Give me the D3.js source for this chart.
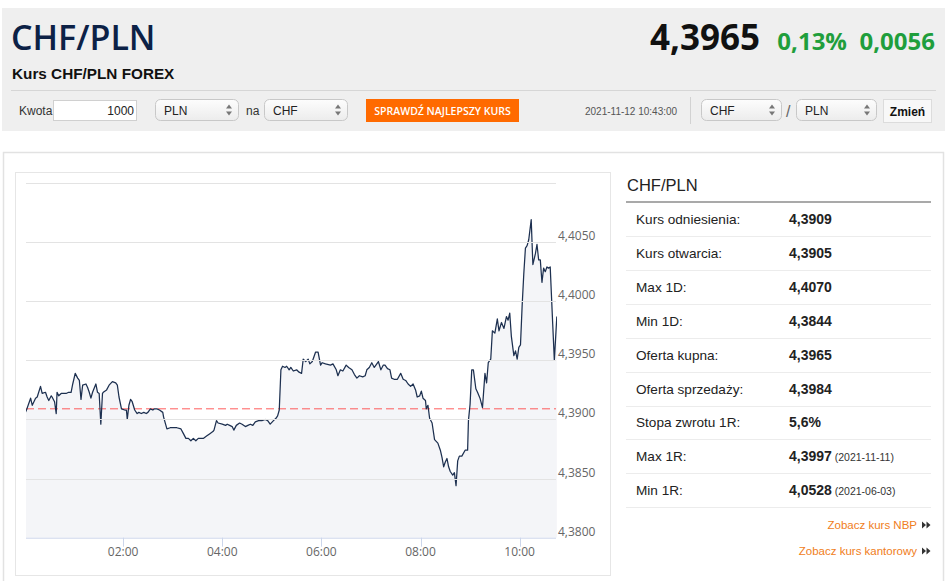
<!DOCTYPE html>
<html>
<head>
<meta charset="utf-8">
<script src="https://cdn.jsdelivr.net/npm/d3@7"></script>
<style>
  html, body { margin: 0; padding: 0; background: #fff; overflow: hidden; }
  svg { display: block; font-family: "Liberation Sans", Arial, sans-serif; }
</style>
</head>
<body>
<script>
// ============================================================
// CHF/PLN intraday quote page, drawn in one SVG with D3
// ============================================================

// ── Data ───────────────────────────────────────────────────
// minutes after midnight (2021-11-12)
const minutes = [
  1,3,8,10,14,16,20,22,26,28,
  30,33,34,37,39,40,42,45,48,51,
  54,57,59,62,65,67,69,71,75,77,
  79,81,83,87,89,91,93,95,96,100,
  103,107,111,113,115,118,122,124,125,127,
  129,131,134,137,139,142,145,148,150,153,
  156,158,161,164,168,169,173,177,181,185,
  190,193,196,199,202,205,208,211,213,217,
  221,225,229,230,233,235,240,244,246,249,
  252,254,257,261,264,268,271,274,277,280,
  284,288,292,295,298,302,305,307,309,311,
  313,316,318,321,323,326,330,333,336,338,
  341,344,346,349,353,356,359,361,365,371,
  374,378,380,383,386,390,393,397,400,403,
  406,410,413,415,418,421,424,426,429,432,
  435,437,440,443,445,448,452,456,459,462,
  465,468,471,474,476,479,481,483,486,487,
  489,491,494,497,501,504,506,508,510,512,
  514,516,519,521,523,525,527,530,534,537,
  538,540,542,544,547,549,552,555,558,560,
  562,565,567,570,573,575,578,581,584,586,
  588,590,593,595,597,599,601,603,605,607,
  609,611,614,616,619,621,623,625,627,629,
  631,633,635,637,640,642,645
];

const rates = [
  4.3905,4.3908,4.3918,4.3912,4.3918,4.3919,4.3928,4.3922,4.3923,4.3919,
  4.3916,4.3920,4.3919,4.3915,4.3905,4.3923,4.3920,4.3922,4.3922,4.3922,
  4.3923,4.3923,4.3930,4.3939,4.3935,4.3933,4.3917,4.3929,4.3930,4.3927,
  4.3923,4.3918,4.3923,4.3930,4.3923,4.3922,4.3896,4.3922,4.3923,4.3925,
  4.3929,4.3932,4.3931,4.3929,4.3919,4.3909,4.3908,4.3908,4.3900,4.3912,
  4.3917,4.3915,4.3908,4.3905,4.3906,4.3905,4.3906,4.3905,4.3906,4.3909,
  4.3908,4.3909,4.3909,4.3908,4.3906,4.3902,4.3892,4.3893,4.3893,4.3893,
  4.3892,4.3888,4.3884,4.3884,4.3882,4.3884,4.3882,4.3884,4.3884,4.3884,
  4.3886,4.3888,4.3890,4.3891,4.3899,4.3897,4.3896,4.3895,4.3896,4.3895,
  4.3894,4.3891,4.3895,4.3897,4.3896,4.3894,4.3895,4.3896,4.3895,4.3898,
  4.3899,4.3899,4.3900,4.3899,4.3896,4.3899,4.3901,4.3903,4.3908,4.3942,
  4.3945,4.3944,4.3945,4.3942,4.3944,4.3941,4.3942,4.3940,4.3939,4.3951,
  4.3949,4.3951,4.3947,4.3949,4.3957,4.3957,4.3946,4.3948,4.3947,4.3946,
  4.3947,4.3942,4.3937,4.3942,4.3941,4.3946,4.3944,4.3942,4.3938,4.3935,
  4.3937,4.3936,4.3937,4.3942,4.3944,4.3948,4.3944,4.3946,4.3949,4.3942,
  4.3946,4.3946,4.3943,4.3942,4.3935,4.3934,4.3934,4.3939,4.3934,4.3933,
  4.3930,4.3928,4.3930,4.3925,4.3919,4.3920,4.3924,4.3918,4.3916,4.3909,
  4.3912,4.3901,4.3897,4.3883,4.3880,4.3874,4.3868,4.3860,4.3864,4.3867,
  4.3860,4.3856,4.3853,4.3855,4.3844,4.3865,4.3869,4.3869,4.3874,4.3874,
  4.3899,4.3913,4.3942,4.3942,4.3926,4.3923,4.3918,4.3910,4.3939,4.3931,
  4.3948,4.3951,4.3975,4.3973,4.3985,4.3975,4.3982,4.3977,4.3987,4.3984,
  4.3990,4.3970,4.3954,4.3958,4.3951,4.3961,4.3963,4.3996,4.4023,4.4045,
  4.4047,4.4052,4.4069,4.4031,4.4040,4.4048,4.4035,4.4035,4.4016,4.4028,
  4.4025,4.4029,4.4028,4.4029,4.3981,4.3950,4.3987
];

const referenceRate = 4.3909;
const yTickValues   = [4.380, 4.385, 4.390, 4.395, 4.400, 4.405, 4.410];
const xTickHours    = [2, 4, 6, 8, 10];

const statLabels = ['Kurs odniesienia:', 'Kurs otwarcia:', 'Max 1D:', 'Min 1D:',
                    'Oferta kupna:', 'Oferta sprzedaży:', 'Stopa zwrotu 1R:', 'Max 1R:', 'Min 1R:'];
const statValues = ['4,3909', '4,3905', '4,4070', '4,3844',
                    '4,3965', '4,3984', '5,6%', '4,3997', '4,0528'];
const statNotes  = ['', '', '', '', '', '', '', '(2021-11-11)', '(2021-06-03)'];

const headline   = ['4,3965', '0,13%', '0,0056'];
const stampText  = '2021-11-12 10:43:00';

// ── Layout constants ───────────────────────────────────────
const W = 948, H = 581;
const PLOT_L = 26, PLOT_R = 556, PLOT_T = 183, PLOT_B = 537.7;
const ZERO_X = 24;              // where 00:00 falls
const PX_PER_MIN = 99 / 120;    // 2 hours = 99px

const CHART_FONT = '"Open Sans", "DejaVu Sans", sans-serif';

const svg = d3.select('body').append('svg')
  .attr('width', W)
  .attr('height', H);

const defs = svg.append('defs');
const grad = defs.append('linearGradient')
  .attr('id', 'selGrad').attr('x1', 0).attr('x2', 0).attr('y1', 0).attr('y2', 1);
grad.append('stop').attr('offset', '0%').attr('stop-color', '#fdfdfd');
grad.append('stop').attr('offset', '100%').attr('stop-color', '#ececec');

// ── Header ─────────────────────────────────────────────────
svg.append('rect')
  .attr('x', 2).attr('y', 8).attr('width', 943).attr('height', 123)
  .attr('fill', '#efefef');

svg.append('text')
  .attr('x', 11).attr('y', 50)
  .attr('font-family', '"Open Sans", sans-serif')
  .attr('font-weight', 600)
  .attr('font-size', 34)
  .attr('fill', '#0c2146')
  .text('CHF/PLN');

svg.append('text')
  .attr('x', 12).attr('y', 79)
  .attr('font-weight', 'bold')
  .attr('font-size', 15.3)
  .attr('fill', '#111')
  .text('Kurs CHF/PLN FOREX');

// price + change, right aligned
const headEnds   = [760, 847, 935];
const headSizes  = [35, 24, 24];
const headColors = ['#111', '#1f9e3c', '#1f9e3c'];
headline.forEach((t, i) => {
  svg.append('text')
    .attr('x', headEnds[i]).attr('y', 50)
    .attr('text-anchor', 'end')
    .attr('font-family', '"Open Sans", sans-serif')
    .attr('font-weight', 700)
    .attr('font-size', headSizes[i])
    .attr('fill', headColors[i])
    .text(t);
});

svg.append('line')
  .attr('x1', 11).attr('x2', 936).attr('y1', 90.5).attr('y2', 90.5)
  .attr('stroke', '#d6d6d6');

// ── Controls row ───────────────────────────────────────────
function label(x, y, t, size, color, weight) {
  return svg.append('text')
    .attr('x', x).attr('y', y)
    .attr('font-size', size)
    .attr('font-weight', weight || 'normal')
    .attr('fill', color)
    .text(t);
}

function selectBox(x, y, w, h, t) {
  svg.append('rect')
    .attr('x', x + 0.5).attr('y', y + 0.5).attr('width', w).attr('height', h)
    .attr('rx', 5).attr('ry', 5)
    .attr('fill', 'url(#selGrad)')
    .attr('stroke', '#c8c8c8');
  label(x + 9, y + 15.5, t, 12, '#222');
  // up / down arrows
  const ax = x + w - 9, ay = y + h / 2 + 0.5;
  svg.append('path')
    .attr('d', `M${ax - 3},${ay - 1.5}L${ax + 3},${ay - 1.5}L${ax},${ay - 5.5}Z` +
               `M${ax - 3},${ay + 1.5}L${ax + 3},${ay + 1.5}L${ax},${ay + 5.5}Z`)
    .attr('fill', '#777');
}

label(19, 115, 'Kwota', 12, '#333');
svg.append('rect')
  .attr('x', 53.5).attr('y', 100.5).attr('width', 83).attr('height', 20)
  .attr('fill', '#fff').attr('stroke', '#d0d0d0');
label(134, 115, '1000', 12, '#222').attr('text-anchor', 'end');

selectBox(155, 99, 83, 21, 'PLN');
label(246, 115, 'na', 12, '#333');
selectBox(264, 99, 83, 21, 'CHF');

svg.append('rect')
  .attr('x', 366).attr('y', 99).attr('width', 153).attr('height', 23)
  .attr('fill', '#ff6a00');
svg.append('text')
  .attr('x', 442.5).attr('y', 114.5)
  .attr('text-anchor', 'middle')
  .attr('font-family', '"Open Sans", sans-serif')
  .attr('font-weight', 600)
  .attr('font-size', 10.5)
  .attr('fill', '#fff')
  .text('SPRAWDŹ NAJLEPSZY KURS');

label(585, 115, stampText, 10, '#555');
svg.append('line')
  .attr('x1', 690.5).attr('x2', 690.5).attr('y1', 97).attr('y2', 124)
  .attr('stroke', '#d2d2d2');

selectBox(701, 99, 80, 21, 'CHF');
label(786, 117, '/', 16, '#666');
selectBox(796, 99, 80, 21, 'PLN');

svg.append('rect')
  .attr('x', 883.5).attr('y', 99.5).attr('width', 48).attr('height', 23)
  .attr('fill', '#f8f8f8').attr('stroke', '#dcdcdc');
label(907.5, 116, 'Zmień', 12, '#111', 'bold').attr('text-anchor', 'middle');

// ── Content frame ──────────────────────────────────────────
svg.append('rect')
  .attr('x', 3.5).attr('y', 152.5).attr('width', 940).attr('height', 460)
  .attr('fill', 'none').attr('stroke', '#e2e2e2').attr('stroke-width', 1.5);

svg.append('rect')
  .attr('x', 15.5).attr('y', 172.5).attr('width', 595).attr('height', 403)
  .attr('fill', '#fff').attr('stroke', '#e6e6e6');

// ── Chart ──────────────────────────────────────────────────
const day = new Date(2021, 10, 12);
const toDate = m => new Date(2021, 10, 12, 0, m);
const points = minutes.map((m, i) => ({ t: toDate(m), v: rates[i] }));

const xEnd = (PLOT_R - ZERO_X) / PX_PER_MIN;
const x = d3.scaleTime()
  .domain([day, toDate(xEnd)])
  .range([ZERO_X, PLOT_R]);

const y = d3.scaleLinear()
  .domain([4.38, 4.41])
  .range([PLOT_B, PLOT_T]);

const fmt = v => d3.format('.4f')(v).replace('.', ',');

svg.append('clipPath').attr('id', 'plotClip')
  .append('rect')
  .attr('x', PLOT_L).attr('y', PLOT_T - 5)
  .attr('width', PLOT_R - PLOT_L + 1).attr('height', PLOT_B - PLOT_T + 5);

const plot = svg.append('g').attr('clip-path', 'url(#plotClip)');

// area under the series
plot.append('path')
  .datum(points)
  .attr('fill', '#f4f5f8')
  .attr('d', d3.area()
    .x(d => x(d.t))
    .y0(y(4.38))
    .y1(d => y(d.v)));

// grid lines
svg.append('g')
  .selectAll('line')
  .data(yTickValues.filter(v => v > 4.38))
  .enter()
  .append('line')
  .attr('x1', PLOT_L).attr('x2', PLOT_R)
  .attr('y1', d => Math.round(y(d)) + 0.5)
  .attr('y2', d => Math.round(y(d)) + 0.5)
  .attr('stroke', '#e3e3e3');

// reference rate
plot.append('line')
  .attr('x1', PLOT_L).attr('x2', PLOT_R)
  .attr('y1', y(referenceRate)).attr('y2', y(referenceRate))
  .attr('stroke', '#ff4040')
  .attr('stroke-opacity', 0.85)
  .attr('stroke-dasharray', '8,4');

// series line
plot.append('path')
  .datum(points)
  .attr('fill', 'none')
  .attr('stroke', '#1d3050')
  .attr('stroke-width', 1.25)
  .attr('stroke-linejoin', 'round')
  .attr('d', d3.line()
    .x(d => x(d.t))
    .y(d => y(d.v)));

// y labels (right side, top grid line unlabeled)
svg.append('g')
  .selectAll('text')
  .data(yTickValues.filter(v => v < 4.41))
  .enter()
  .append('text')
  .attr('x', 558)
  .attr('y', d => y(d) - 2)
  .attr('font-family', CHART_FONT)
  .attr('font-size', 12)
  .attr('fill', '#666')
  .text(fmt);

// x axis
svg.append('line')
  .attr('x1', PLOT_L).attr('x2', PLOT_R)
  .attr('y1', PLOT_B + 0.5).attr('y2', PLOT_B + 0.5)
  .attr('stroke', '#ccd6eb');

const xTicks = xTickHours.map(h => new Date(2021, 10, 12, h));
const xAxisG = svg.append('g');
xAxisG.selectAll('line')
  .data(xTicks)
  .enter()
  .append('line')
  .attr('x1', d => Math.round(x(d)) + 0.5)
  .attr('x2', d => Math.round(x(d)) + 0.5)
  .attr('y1', PLOT_B).attr('y2', PLOT_B + 9)
  .attr('stroke', '#ccd6eb');
xAxisG.selectAll('text')
  .data(xTicks)
  .enter()
  .append('text')
  .attr('x', d => x(d))
  .attr('y', 556)
  .attr('text-anchor', 'middle')
  .attr('font-family', CHART_FONT)
  .attr('font-size', 12)
  .attr('fill', '#666')
  .text(d3.timeFormat('%H:%M'));

// ── Stats table ────────────────────────────────────────────
const TBL_L = 626, TBL_R = 931, ROW_H = 33.9, ROW0 = 219;

label(627, 191, 'CHF/PLN', 16.5, '#222');
svg.append('rect')
  .attr('x', TBL_L).attr('y', 201).attr('width', TBL_R - TBL_L).attr('height', 2)
  .attr('fill', '#a9a9a9');

statLabels.forEach((t, i) => {
  const cy = ROW0 + i * ROW_H;
  label(636, cy + 5, t, 13.6, '#222');
  const val = label(789, cy + 5, statValues[i], 14, '#222', 'bold');
  if (statNotes[i]) {
    val.append('tspan')
      .attr('font-size', 10.5)
      .attr('font-weight', 'normal')
      .attr('fill', '#333')
      .text(' ' + statNotes[i]);
  }
  svg.append('line')
    .attr('x1', TBL_L).attr('x2', TBL_R)
    .attr('y1', Math.round(cy + 17) + 0.5).attr('y2', Math.round(cy + 17) + 0.5)
    .attr('stroke', '#ececec');
});

// links
function moreLink(cy, t) {
  label(917, cy + 4, t, 11.5, '#f07d21').attr('text-anchor', 'end');
  const ax = 922, ay = cy;
  svg.append('path')
    .attr('d', `M${ax},${ay - 3.5}L${ax + 4},${ay}L${ax},${ay + 3.5}Z` +
               `M${ax + 4.5},${ay - 3.5}L${ax + 8.5},${ay}L${ax + 4.5},${ay + 3.5}Z`)
    .attr('fill', '#333');
}
moreLink(525, 'Zobacz kurs NBP');
moreLink(551, 'Zobacz kurs kantorowy');
</script>
</body>
</html>
